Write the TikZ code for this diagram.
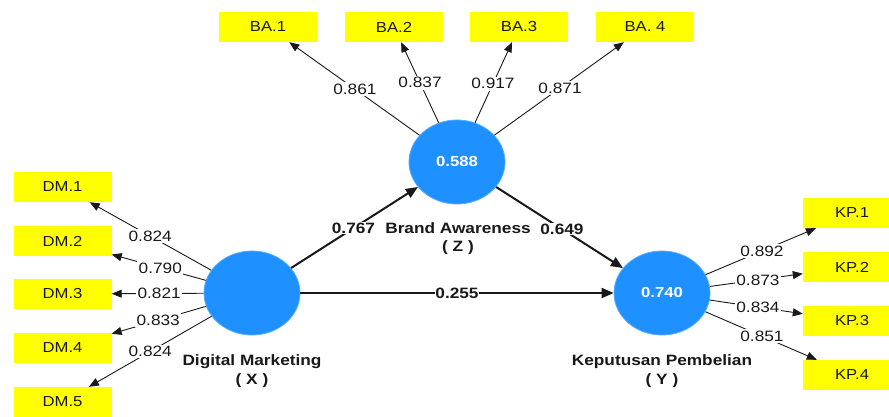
\documentclass[tikz,border=0pt]{standalone}
\usepackage{fontspec}
\setmainfont{Liberation Sans}[FakeStretch=1.15]
\usetikzlibrary{shapes.geometric,arrows.meta,calc}
\definecolor{lvblue}{RGB}{30,144,255}
\definecolor{mvyellow}{RGB}{255,255,0}
\definecolor{ink}{RGB}{25,25,25}
\begin{document}
\begin{tikzpicture}[x=1pt,y=-1pt,
  lv/.style={ellipse, fill=lvblue, draw=lvblue!75!white, line width=0.8pt, minimum width=96pt, minimum height=84pt, inner sep=0pt, text=white, font=\fontsize{14.5}{16}\selectfont\bfseries},
  mv/.style={rectangle, fill=mvyellow, minimum width=98pt, minimum height=30pt, inner sep=0pt, text=ink, font=\fontsize{14.5}{16}\selectfont},
  load/.style={draw=ink, line width=0.9pt, -{Triangle[length=10pt,width=8pt]}},
  struct/.style={draw=ink, line width=2pt, -{Triangle[length=12pt,width=10pt]}},
  lbl/.style={fill=white, inner sep=1.5pt, text=ink, font=\fontsize{15}{16}\selectfont},
  plbl/.style={lbl, inner sep=0.8pt, font=\fontsize{15}{16}\selectfont\bfseries},
  lvname/.style={text=ink, font=\fontsize{15}{17}\selectfont\bfseries, inner sep=0pt}
]
\clip (0,0) rectangle (889,416);
\fill[white] (0,0) rectangle (889,416);

% latent variables
\node[lv] (X) at (252,293) {};
\node[lv] (Z) at (457,162) {0.588};
\node[lv] (Y) at (662,293) {0.740};

% indicators
\node[mv] (DM1) at (62.5,187) {DM.1};
\node[mv] (DM2) at (62.5,241) {DM.2};
\node[mv] (DM3) at (62.5,294) {DM.3};
\node[mv] (DM4) at (62.5,348) {DM.4};
\node[mv] (DM5) at (62.5,402) {DM.5};

\node[mv] (BA1) at (268,27) {BA.1};
\node[mv] (BA2) at (394,27) {BA.2};
\node[mv] (BA3) at (519,27) {BA.3};
\node[mv] (BA4) at (645,27) {BA. 4};

\node[mv] (KP1) at (852,213) {KP.1};
\node[mv] (KP2) at (852,267) {KP.2};
\node[mv] (KP3) at (852,321) {KP.3};
\node[mv] (KP4) at (852,375) {KP.4};

% latent names
\node[lvname] (Xn1) at (252,362) {Digital Marketing};
\node[lvname] (Xn2) at (252,381) {( X )};
\node[lvname] (Zn1) at (458,228) {Brand Awareness};
\node[lvname] (Zn2) at (458,248) {( Z )};
\node[lvname] (Yn1) at (662,362) {Keputusan Pembelian};
\node[lvname] (Yn2) at (662,381) {( Y )};

% loadings
\draw[load] (X) -- (DM1);
\draw[load] (X) -- (DM2);
\draw[load] (X) -- (DM3);
\draw[load] (X) -- (DM4);
\draw[load] (X) -- (DM5);
\draw[load] (Z) -- (BA1);
\draw[load] (Z) -- (BA2);
\draw[load] (Z) -- (BA3);
\draw[load] (Z) -- (BA4);
\draw[load] (Y) -- (KP1);
\draw[load] (Y) -- (KP2);
\draw[load] (Y) -- (KP3);
\draw[load] (Y) -- (KP4);

% structural paths
\draw[struct] (X) -- (Z);
\draw[struct] (Z) -- (Y);
\draw[struct] (X) -- (Y);

% loading labels
\node[lbl] (lDM1) at ($(X.center)!0.537!(DM1.center)$) {0.824};
\node[lbl] (lDM2) at ($(X.center)!0.484!(DM2.center)$) {0.790};
\node[lbl] (lDM3) at ($(X.center)!0.490!(DM3.center)$) {0.821};
\node[lbl] (lDM4) at ($(X.center)!0.495!(DM4.center)$) {0.833};
\node[lbl] (lDM5) at ($(X.center)!0.537!(DM5.center)$) {0.824};

\node[lbl] (lBA1) at ($(Z.center)!0.54!(BA1.center)$) {0.861};
\node[lbl] (lBA2) at ($(Z.center)!0.587!(BA2.center)$) {0.837};
\node[lbl] (lBA3) at ($(Z.center)!0.58!(BA3.center)$) {0.917};
\node[lbl] (lBA4) at ($(Z.center)!0.548!(BA4.center)$) {0.871};

\node[lbl] (lKP1) at ($(Y.center)!0.526!(KP1.center)$) {0.892};
\node[lbl] (lKP2) at ($(Y.center)!0.505!(KP2.center)$) {0.873};
\node[lbl] (lKP3) at ($(Y.center)!0.505!(KP3.center)$) {0.834};
\node[lbl] (lKP4) at ($(Y.center)!0.526!(KP4.center)$) {0.851};

% path coefficients
\node[plbl] (pXZ) at ($(X.center)!0.495!(Z.center)$) {0.767};
\node[plbl] (pZY) at ($(Z.center)!0.512!(Y.center)$) {0.649};
\node[plbl] (pXY) at ($(X.center)!0.5!(Y.center)$) {0.255};
\end{tikzpicture}
\end{document}
